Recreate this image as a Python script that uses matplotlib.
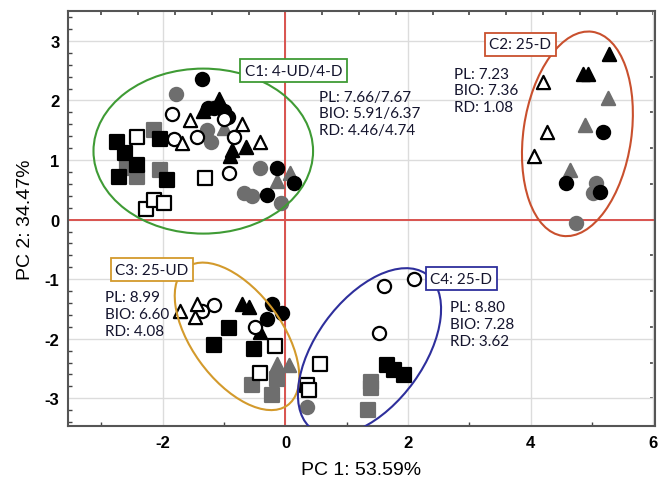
import numpy as np
import matplotlib
matplotlib.use("Agg")
import matplotlib.pyplot as plt
from matplotlib.patches import Ellipse
from matplotlib.ticker import MultipleLocator

plt.rcParams['font.family'] = ['Liberation Sans', 'DejaVu Sans']
plt.rcParams['axes.unicode_minus'] = False

# scores, grouped by marker style
black_circle_x = [-1.36, -1.26, -1.17, -1.01, -0.93, -0.14, 0.14, -0.30, 5.18, 4.58, 5.12, -0.22, -0.05, -0.30]
black_circle_y = [2.36, 1.87, 1.87, 1.83, 1.72, 0.86, 0.61, 0.42, 1.47, 0.61, 0.47, -1.42, -1.56, -1.67]
gray_circle_x = [-1.79, -1.28, -1.22, -0.41, -0.68, -0.54, -0.08, 5.06, 5.02, 4.73, 0.35]
gray_circle_y = [2.11, 1.50, 1.31, 0.86, 0.44, 0.39, 0.28, 0.61, 0.44, -0.06, -3.14]
open_circle_x = [-1.85, -1.00, -1.82, -1.44, -0.84, -0.92, -1.36, -1.17, -0.50, 1.60, 2.09, 1.52]
open_circle_y = [1.78, 1.69, 1.36, 1.39, 1.39, 0.78, -1.53, -1.44, -1.81, -1.11, -0.99, -1.90]

black_tri_x = [-1.09, -1.34, -0.87, -0.90, -0.65, 5.28, 4.85, 4.94, -0.71, -0.60, -0.41]
black_tri_y = [2.03, 1.83, 1.17, 1.06, 1.22, 2.78, 2.44, 2.44, -1.42, -1.47, -1.89]
gray_tri_x = [-1.00, -0.14, 0.08, 5.26, 4.88, 4.64, -0.14, 0.05]
gray_tri_y = [1.53, 0.64, 0.78, 2.04, 1.58, 0.84, -2.42, -2.44]
open_tri_x = [-1.55, -0.71, -1.69, -0.42, 4.20, 4.26, 4.05, -1.72, -1.47, -1.44]
open_tri_y = [1.67, 1.61, 1.28, 1.31, 2.31, 1.47, 1.06, -1.53, -1.64, -1.42]

black_sq_x = [-2.75, -2.61, -2.42, -2.72, -1.93, -2.04, -0.92, -1.16, -0.52, 1.66, 1.77, 1.93]
black_sq_y = [1.31, 1.11, 0.92, 0.72, 0.67, 1.36, -1.82, -2.10, -2.17, -2.44, -2.53, -2.61]
gray_sq_x = [-2.15, -2.58, -2.42, -2.04, -0.54, -0.22, -0.14, 1.39, 1.39, 1.34]
gray_sq_y = [1.50, 0.86, 0.72, 0.83, -2.78, -2.94, -2.67, -2.72, -2.83, -3.19]
open_sq_x = [-2.42, -1.31, -2.28, -2.15, -1.98, -0.17, -0.41, 0.35, 0.38, 0.57]
open_sq_y = [1.39, 0.69, 0.17, 0.33, 0.28, -2.12, -2.58, -2.78, -2.86, -2.42]

# cluster ellipses: centre, width, height, angle
cluster_names = ['C1: 4-UD/4-D', 'C2: 25-D', 'C3: 25-UD', 'C4: 25-D']
cluster_center = [(-1.34, 1.15), (4.76, 1.44), (-0.79, -1.96), (1.37, -2.22)]
cluster_size = [(3.58, 2.77, 0), (1.76, 3.46, -8), (2.84, 1.48, -55), (3.2, 1.76, 55)]
cluster_colors = ['#3f9b35', '#c9502e', '#d39a2c', '#2e2f9c']
label_pos = [(0.13, 2.50), (3.83, 2.94), (-2.18, -0.84), (2.87, -0.99)]
stats_text = ['PL: 7.66/7.67\nBIO: 5.91/6.37\nRD: 4.46/4.74',
              'PL: 7.23\nBIO: 7.36\nRD: 1.08',
              'PL: 8.99\nBIO: 6.60\nRD: 4.08',
              'PL: 8.80\nBIO: 7.28\nRD: 3.62']
stats_pos = [(0.55, 2.18), (2.75, 2.57), (-2.94, -1.19), (2.68, -1.35)]

fig = plt.figure(figsize=(6.64, 4.85), dpi=100)
ax = fig.add_axes([0.102, 0.119, 0.884, 0.856])

gray = '#6e6e6e'
ms = 90
series = [
    (gray_circle_x, gray_circle_y, 'o', gray, gray),
    (gray_tri_x, gray_tri_y, '^', gray, gray),
    (gray_sq_x, gray_sq_y, 's', gray, gray),
    (black_circle_x, black_circle_y, 'o', 'black', 'black'),
    (black_tri_x, black_tri_y, '^', 'black', 'black'),
    (black_sq_x, black_sq_y, 's', 'black', 'black'),
    (open_circle_x, open_circle_y, 'o', 'white', 'black'),
    (open_tri_x, open_tri_y, '^', 'white', 'black'),
    (open_sq_x, open_sq_y, 's', 'white', 'black'),
]
for xs, ys, m, fc, ec in series:
    ax.scatter(xs, ys, s=ms, marker=m, facecolor=fc, edgecolor=ec, linewidth=1.6, zorder=3)

ax.axhline(0, color='#d9534f', lw=1.4, zorder=1)
ax.axvline(0, color='#d9534f', lw=1.4, zorder=1)

for i in range(4):
    w, h, ang = cluster_size[i]
    ax.add_patch(Ellipse(cluster_center[i], w, h, angle=ang, fill=False,
                         edgecolor=cluster_colors[i], lw=1.5, zorder=4))
    ax.text(label_pos[i][0], label_pos[i][1], cluster_names[i], ha='center', va='center',
            fontsize=11, family=['Lato', 'DejaVu Sans'], color='#15152e', zorder=5,
            bbox=dict(boxstyle='square,pad=0.3', facecolor='white',
                      edgecolor=cluster_colors[i], lw=1.3))
    ax.text(stats_pos[i][0], stats_pos[i][1], stats_text[i], ha='left', va='top',
            fontsize=11, family=['Lato', 'DejaVu Sans'], color='#15152e',
            linespacing=1.25, zorder=5)

ax.set_xlim(-3.55, 6.02)
ax.set_ylim(-3.47, 3.5)
ax.set_xticks([-2, 0, 2, 4, 6])
ax.set_yticks([-3, -2, -1, 0, 1, 2, 3])
ax.xaxis.set_minor_locator(MultipleLocator(1))
ax.yaxis.set_minor_locator(MultipleLocator(0.2))
ax.grid(True, which='major', color='#dcdcdc', lw=1.0, zorder=0)
ax.set_axisbelow(True)
ax.tick_params(which='both', direction='in', color='#444444')
ax.tick_params(which='major', length=0, labelsize=12, pad=6)
ax.tick_params(which='minor', length=3, width=1)
for lab in ax.get_xticklabels() + ax.get_yticklabels():
    lab.set_fontweight('bold')
for sp in ax.spines.values():
    sp.set_color('#555555')
    sp.set_linewidth(1.5)

top = ax.secondary_xaxis('top')
top.xaxis.set_major_locator(MultipleLocator(0.6))
top.tick_params(direction='in', length=3, width=1.2, color='#444444', labeltop=False)
top.spines['top'].set_visible(False)
right = ax.secondary_yaxis('right')
right.yaxis.set_major_locator(MultipleLocator(0.6))
right.yaxis.set_minor_locator(MultipleLocator(0.12))
right.tick_params(which='both', direction='in', color='#444444', labelright=False)
right.tick_params(which='major', length=3.5, width=1.2)
right.tick_params(which='minor', length=1.5, width=0.8)
right.spines['right'].set_visible(False)

ax.set_xlabel('PC 1: 53.59%', fontsize=14, labelpad=8)
ax.set_ylabel('PC 2: 34.47%', fontsize=14, labelpad=8)

fig.savefig('out.png', dpi=100)
